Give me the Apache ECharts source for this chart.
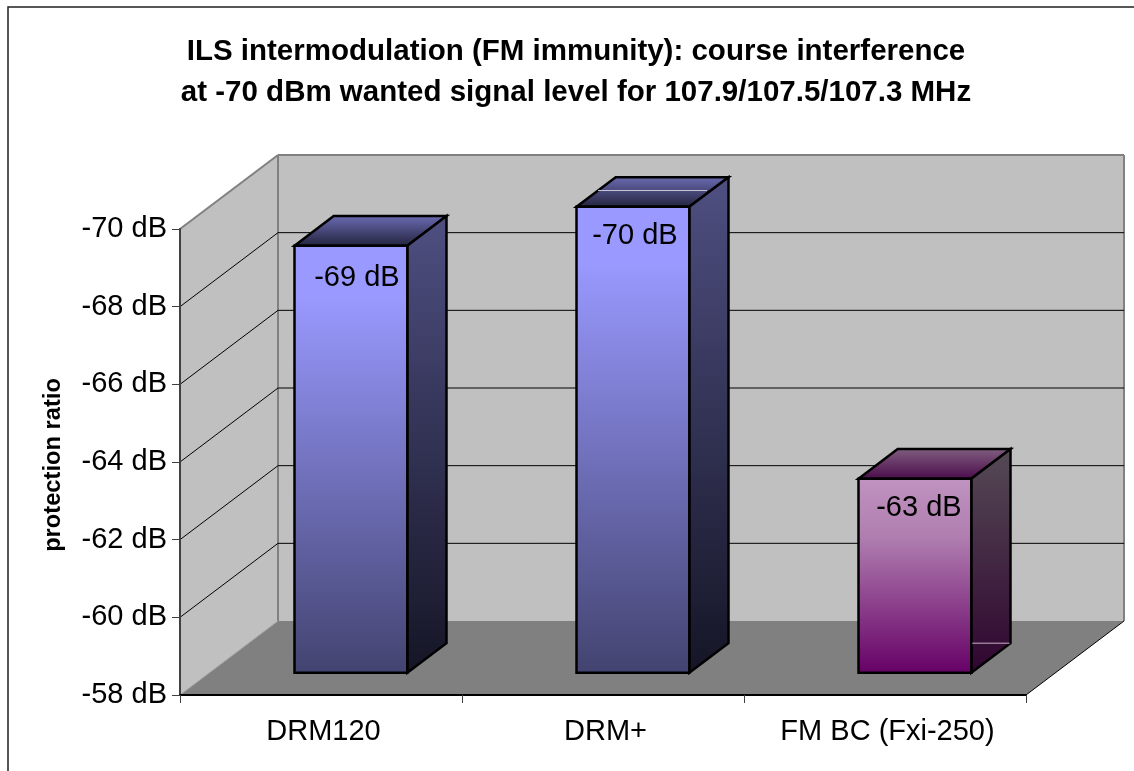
<!DOCTYPE html>
<html>
<head>
<meta charset="utf-8">
<style>html,body{margin:0;padding:0;background:#fff}#c{width:1134px;height:771px}</style>
<script src="https://cdn.jsdelivr.net/npm/echarts@6/dist/echarts.min.js"></script>
</head>
<body>
<div id="c"></div>
<script>
const categories = ['DRM120', 'DRM+', 'FM BC (Fxi-250)'];
const values = [-69, -70, -63];
const valueLabels = ['-69 dB', '-70 dB', '-63 dB'];
const yTicks = [-68, -66, -64, -62, -60];

const FONT = '"Liberation Sans", Arial, sans-serif';
const DX = 98, DY = -74;
const G = echarts.graphic;
const grad = (stops) => new G.LinearGradient(0, 0, 0, 1, stops.map((c, i) => ({offset: c[0], color: c[1]})));
const blue = {
  front: [[0, '#9999ff'], [0.12, '#9999ff'], [1, '#434370']],
  top: [[0, '#6c6cb4'], [1, '#22223c']],
  side: [[0, '#4f4f82'], [1, '#151526']]
};
const purple = {
  front: [[0, '#c093c0'], [0.3, '#b07fb0'], [1, '#660066']],
  top: [[0, '#806080'], [1, '#4a0a4a']],
  side: [[0, '#554a55'], [1, '#300530']]
};
const palette = [blue, blue, purple];
const labelNudge = [6, 2, 4];
const labelDrop = [32, 29, 29];

function poly(pts, style, z2) {
  return {type: 'polygon', shape: {points: pts}, style: style, z2: z2 || 0, silent: true};
}
function seg(x1, y1, x2, y2, stroke, w, z2) {
  return {type: 'line', shape: {x1, y1, x2, y2}, style: {stroke, lineWidth: w, fill: null}, z2: z2 || 0, silent: true};
}

function renderWalls(params, api) {
  const cs = params.coordSys;
  const L = cs.x, R = cs.x + cs.width, T = cs.y, B = cs.y + cs.height;
  const wall = {fill: '#c0c0c0', stroke: null};
  const edge = '#808080';
  return {type: 'group', children: [
    poly([[L, T], [L + DX, T + DY], [L + DX, B + DY], [L, B]], wall),
    poly([[L + DX, T + DY], [R + DX, T + DY], [R + DX, B + DY], [L + DX, B + DY]], wall),
    poly([[L, B], [R, B], [R + DX, B + DY], [L + DX, B + DY]], {fill: '#808080', stroke: null}, 1),
    seg(L, T, L + DX, T + DY, edge, 2, 2),
    seg(L + DX, T + DY, R + DX, T + DY, edge, 2, 2),
    seg(L + DX, T + DY, L + DX, B + DY, edge, 2, 2),
    seg(R + DX, T + DY, R + DX, B + DY, edge, 2, 2),
    seg(L, B, L + DX, B + DY, '#a0a0a0', 1, 2),
    seg(R, B, R + DX, B + DY, '#000000', 1, 2)
  ]};
}

function renderGrid(params, api) {
  const cs = params.coordSys;
  const L = cs.x, R = cs.x + cs.width;
  const y = api.coord([0, api.value(1)])[1];
  return {type: 'group', children: [
    seg(L, y, L + DX, y + DY, '#000000', 1),
    seg(L + DX, y + DY, R + DX, y + DY, '#000000', 1)
  ]};
}

function renderBar(params, api) {
  const i = api.value(0);
  const band = api.size([1, 0])[0];
  const cx = api.coord([i, 0])[0];
  const top = api.coord([i, api.value(1)])[1];
  const foot = params.coordSys.y + params.coordSys.height;
  const off = 0.3, depth = 0.4, halfW = band * 0.2;
  const x0 = cx + DX * off - halfW + 0.5, x1 = cx + DX * off + halfW + 0.5;
  const y0 = top + DY * off, y1 = foot + DY * off;
  const dx = DX * depth, dy = DY * depth;
  const p = palette[i];
  const line = {stroke: '#000000', lineWidth: 2.5, lineJoin: 'miter'};
  const kids = [
    poly([[x0, y0], [x1, y0], [x1 + dx, y0 + dy], [x0 + dx, y0 + dy]],
      Object.assign({fill: grad(p.top)}, line), 1),
    poly([[x1, y0], [x1 + dx, y0 + dy], [x1 + dx, y1 + dy], [x1, y1]],
      Object.assign({fill: grad(p.side)}, line), 1),
    poly([[x0, y0], [x1, y0], [x1, y1], [x0, y1]],
      Object.assign({fill: grad(p.front)}, line), 2),
    {type: 'text', z2: 3, silent: true, style: {
      text: valueLabels[i], x: (x0 + x1) / 2 + labelNudge[i], y: y0 + labelDrop[i],
      align: 'center', verticalAlign: 'middle', font: '29px ' + FONT, fill: '#000000'
    }}
  ];
  if (i === 1) kids.push(seg(x0 + dx * 0.55, y0 + dy * 0.55, x1 + dx * 0.45, y0 + dy * 0.55, '#c8c8d8', 1, 3));
  if (i === 2) kids.push(seg(x1 + 1, y1 + dy, x1 + dx - 1, y1 + dy, '#c8b0c8', 1, 3));
  return {type: 'group', children: kids};
}

const chart = echarts.init(document.getElementById('c'), null, {renderer: 'canvas'});
chart.setOption({
  animation: false,
  backgroundColor: '#ffffff',
  title: {
    text: 'ILS intermodulation (FM immunity): course interference\nat -70 dBm wanted signal level for 107.9/107.5/107.3 MHz',
    left: 571, top: 26, textAlign: 'center',
    textStyle: {fontFamily: FONT, fontWeight: 'bold', fontSize: 29.5, lineHeight: 41, color: '#000000'}
  },
  grid: {left: 180, top: 229, width: 846, height: 466, containLabel: false},
  xAxis: {
    type: 'category', data: categories, z: 6,
    axisLine: {onZero: false, lineStyle: {color: '#000000', width: 2}},
    axisTick: {show: true, length: 8, alignWithLabel: false, lineStyle: {color: '#404040', width: 1}},
    axisLabel: {color: '#000000', fontFamily: FONT, fontSize: 29, margin: 22, interval: 0, padding: [0, 0, 0, 5]},
    splitLine: {show: false}
  },
  yAxis: {
    type: 'value', min: -70, max: -58, interval: 2, inverse: true, z: 6,
    name: 'protection ratio', nameLocation: 'middle', nameGap: 115, nameRotate: 90,
    nameTextStyle: {fontFamily: FONT, fontWeight: 'bold', fontSize: 23.7, color: '#000000', padding: [0, 6, 0, 0]},
    axisLine: {show: true, onZero: false, lineStyle: {color: '#404040', width: 2}},
    axisTick: {show: true, length: 8, lineStyle: {color: '#404040', width: 1}},
    axisLabel: {color: '#000000', fontFamily: FONT, fontSize: 29, margin: 13, padding: [2, 0, 0, 0], formatter: '{value} dB'},
    splitLine: {show: false}
  },
  graphic: [{
    type: 'rect', silent: true, z: 0,
    shape: {x: 8, y: 7, width: 1300, height: 900},
    style: {fill: null, stroke: '#202020', lineWidth: 1.5}
  }],
  series: [
    {type: 'custom', name: 'walls', renderItem: renderWalls, data: [[0, -58]], clip: false, z: 1, silent: true, tooltip: {show: false}},
    {type: 'custom', name: 'grid', renderItem: renderGrid, data: yTicks.map(t => [0, t]), clip: false, z: 2, silent: true},
    {type: 'custom', name: 'protection ratio', renderItem: renderBar, data: values.map((v, i) => [i, v]), clip: false, z: 3, silent: true}
  ]
});
</script>
</body>
</html>
